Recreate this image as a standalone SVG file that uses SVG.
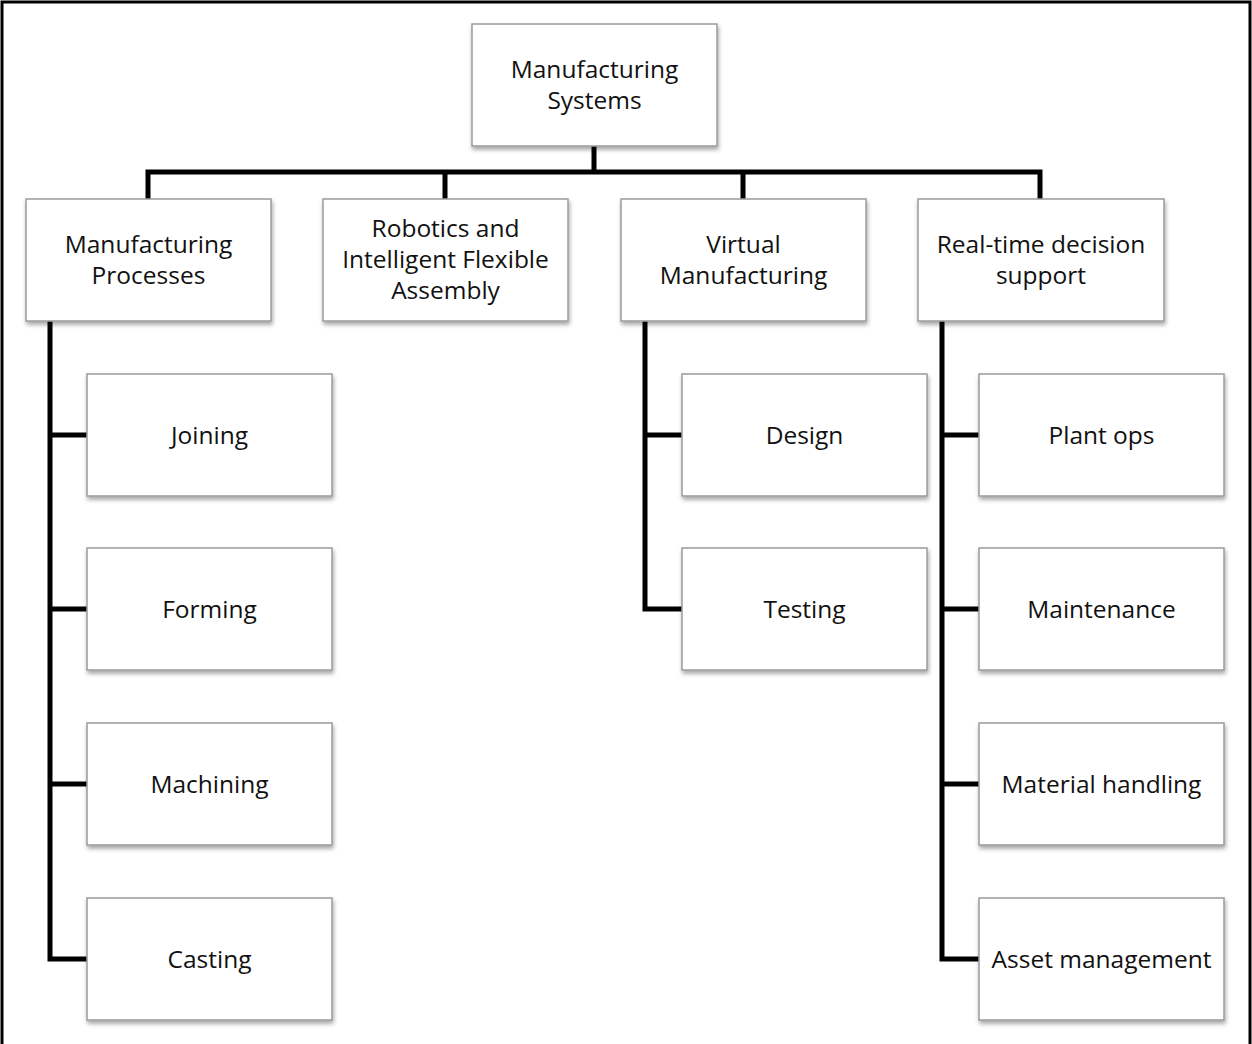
<svg xmlns="http://www.w3.org/2000/svg" width="1252" height="1044" viewBox="0 0 1252 1044">
<defs>
<filter id="sh" x="-10%" y="-10%" width="125%" height="130%">
<feDropShadow dx="1" dy="3" stdDeviation="2" flood-color="#000" flood-opacity="0.35"/>
</filter>
</defs>
<style>
.box{fill:#fff;stroke:#9a9a9a;stroke-width:1.5;filter:url(#sh)}
.t{font-family:"Open Sans","Liberation Sans",sans-serif;font-size:24.5px;fill:#111;text-anchor:middle}
.c{fill:none;stroke:#000;stroke-width:5;stroke-linejoin:miter;stroke-linecap:square}
</style>
<rect x="0" y="0" width="1252" height="1044" fill="#fff"/>
<path d="M2,1044 V2 H1250 V1044" fill="none" stroke="#000" stroke-width="3"/>
<g id="connectors">
<path class="c" d="M594,146 V172 M148,199 V172 H1040 V199 M445,172 V199 M743,172 V199"/>
<path class="c" d="M50,321 V959 H87 M50,435 H87 M50,609 H87 M50,784 H87"/>
<path class="c" d="M645,321 V609 H682 M645,435 H682"/>
<path class="c" d="M942,321 V959 H979 M942,435 H979 M942,609 H979 M942,784 H979"/>
</g>
<g id="n-root"><rect class="box" x="472" y="24" width="245" height="122"/><text class="t" x="594.5" y="78">Manufacturing</text><text class="t" x="594.5" y="109">Systems</text></g>
<g id="n-processes"><rect class="box" x="26" y="199" width="245" height="122"/><text class="t" x="148.5" y="253">Manufacturing</text><text class="t" x="148.5" y="284">Processes</text></g>
<g id="n-robotics"><rect class="box" x="323" y="199" width="245" height="122"/><text class="t" x="445.5" y="237">Robotics and</text><text class="t" x="445.5" y="268">Intelligent Flexible</text><text class="t" x="445.5" y="299">Assembly</text></g>
<g id="n-virtual"><rect class="box" x="621" y="199" width="245" height="122"/><text class="t" x="743.5" y="253">Virtual</text><text class="t" x="743.5" y="284">Manufacturing</text></g>
<g id="n-realtime"><rect class="box" x="918" y="199" width="246" height="122"/><text class="t" x="1041" y="253">Real-time decision</text><text class="t" x="1041" y="284">support</text></g>
<g id="n-joining"><rect class="box" x="87" y="374" width="245" height="122"/><text class="t" x="209.5" y="444">Joining</text></g>
<g id="n-forming"><rect class="box" x="87" y="548" width="245" height="122"/><text class="t" x="209.5" y="618">Forming</text></g>
<g id="n-machining"><rect class="box" x="87" y="723" width="245" height="122"/><text class="t" x="209.5" y="793">Machining</text></g>
<g id="n-casting"><rect class="box" x="87" y="898" width="245" height="122"/><text class="t" x="209.5" y="968">Casting</text></g>
<g id="n-design"><rect class="box" x="682" y="374" width="245" height="122"/><text class="t" x="804.5" y="444">Design</text></g>
<g id="n-testing"><rect class="box" x="682" y="548" width="245" height="122"/><text class="t" x="804.5" y="618">Testing</text></g>
<g id="n-plantops"><rect class="box" x="979" y="374" width="245" height="122"/><text class="t" x="1101.5" y="444">Plant ops</text></g>
<g id="n-maintenance"><rect class="box" x="979" y="548" width="245" height="122"/><text class="t" x="1101.5" y="618">Maintenance</text></g>
<g id="n-material"><rect class="box" x="979" y="723" width="245" height="122"/><text class="t" x="1101.5" y="793">Material handling</text></g>
<g id="n-asset"><rect class="box" x="979" y="898" width="245" height="122"/><text class="t" x="1101.5" y="968">Asset management</text></g>
</svg>
